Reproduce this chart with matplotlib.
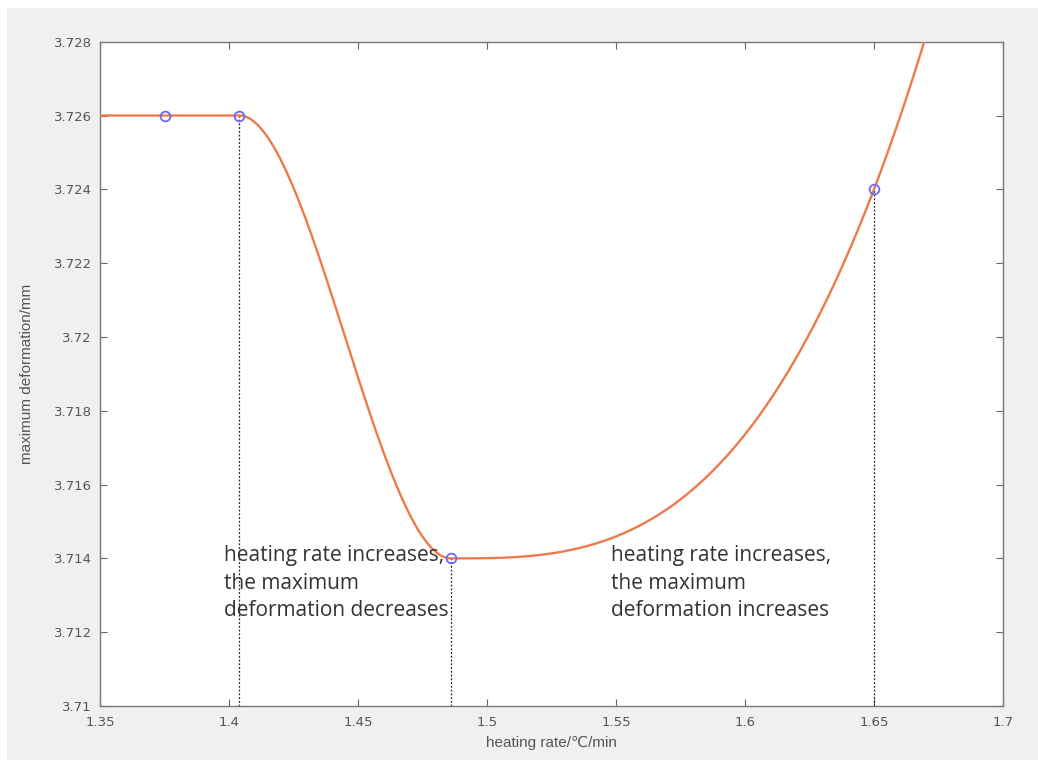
import numpy as np
import matplotlib
matplotlib.use('Agg')
import matplotlib.pyplot as plt
from matplotlib.patches import Rectangle

# sampled points: heating rate vs. maximum deformation
rate = np.array([1.375, 1.404, 1.486, 1.65])
deform = np.array([3.726, 3.726, 3.714, 3.724])
drop_idx = [1, 2, 3]   # points with a dotted guide line down to the axis

xticks = [1.35, 1.4, 1.45, 1.5, 1.55, 1.6, 1.65, 1.7]
yticks = [3.71, 3.712, 3.714, 3.716, 3.718, 3.72, 3.722, 3.724, 3.726, 3.728]
xticklabels = ['1.35', '1.4', '1.45', '1.5', '1.55', '1.6', '1.65', '1.7']
yticklabels = ['3.71', '3.712', '3.714', '3.716', '3.718', '3.72', '3.722', '3.724', '3.726', '3.728']

note_left = 'heating rate increases,\nthe maximum\ndeformation decreases'
note_right = 'heating rate increases,\nthe maximum\ndeformation increases'


def pchip_slopes(x, y):
    h = np.diff(x)
    d = np.diff(y) / h
    m = np.zeros_like(y)
    for k in range(1, len(x) - 1):
        if d[k - 1] * d[k] > 0:
            w1 = 2 * h[k] + h[k - 1]
            w2 = h[k] + 2 * h[k - 1]
            m[k] = (w1 + w2) / (w1 / d[k - 1] + w2 / d[k])

    def end(h0, h1, d0, d1):
        s = ((2 * h0 + h1) * d0 - h0 * d1) / (h0 + h1)
        if np.sign(s) != np.sign(d0):
            s = 0.0
        elif np.sign(d0) != np.sign(d1) and abs(s) > abs(3 * d0):
            s = 3 * d0
        return s

    m[0] = end(h[0], h[1], d[0], d[1])
    m[-1] = end(h[-1], h[-2], d[-1], d[-2])
    return m


def pchip(x, y, xq):
    m = pchip_slopes(x, y)
    i = np.clip(np.searchsorted(x, xq) - 1, 0, len(x) - 2)
    h = x[i + 1] - x[i]
    t = (xq - x[i]) / h
    h00 = 2 * t**3 - 3 * t**2 + 1
    h10 = t**3 - 2 * t**2 + t
    h01 = -2 * t**3 + 3 * t**2
    h11 = t**3 - t**2
    return h00 * y[i] + h10 * h * m[i] + h01 * y[i + 1] + h11 * h * m[i + 1]


xs = np.linspace(1.35, 1.7, 800)
ys = pchip(rate, deform, xs)

fig = plt.figure(figsize=(10.38, 7.6), dpi=100, facecolor='white')
fig.patches.append(Rectangle((7 / 1038, 0), 1, 1 - 8 / 760, transform=fig.transFigure,
                             facecolor='#f0f0f0', edgecolor='none', zorder=-10))
ax = fig.add_axes([100 / 1038, 1 - 706 / 760, 903 / 1038, 664.3 / 760])
ax.set_facecolor('white')

ax.plot(xs, ys, color='#ee7a4c', lw=1.7, zorder=3)
for k in drop_idx:
    ax.plot([rate[k], rate[k]], [3.71, deform[k]], color='#222222', ls=(0, (1.5, 1.5)), lw=0.9, zorder=2)
ax.plot(rate, deform, 'o', mfc='none', mec='#6a6af5', mew=1.3, ms=7, zorder=4)

txt = dict(fontsize=15, color='#333333', family=['Open Sans', 'DejaVu Sans'],
           va='top', ha='left', linespacing=1.38)
ax.text(1.398, 3.71435, note_left, **txt)
ax.text(1.548, 3.71435, note_right, **txt)

ax.set_xlim(1.35, 1.7)
ax.set_ylim(3.71, 3.728)
ax.set_xticks(xticks)
ax.set_xticklabels(xticklabels)
ax.set_yticks(yticks)
ax.set_yticklabels(yticklabels)
ax.tick_params(direction='in', top=True, right=True, length=5, width=0.8,
               color='#666666', labelcolor='#555555', labelsize=9.5)
ax.tick_params(axis='x', pad=7)
ax.tick_params(axis='y', pad=6)
for s in ax.spines.values():
    s.set_color('#777777')
    s.set_linewidth(1.0)

lab = dict(fontsize=11, color='#555555', family=['Liberation Sans', 'DejaVu Sans'])
ax.set_xlabel('heating rate/℃/min', labelpad=5, **lab)
ax.set_ylabel('maximum deformation/mm', labelpad=14, **lab)

fig.savefig('out.png', dpi=100, facecolor=fig.get_facecolor())
